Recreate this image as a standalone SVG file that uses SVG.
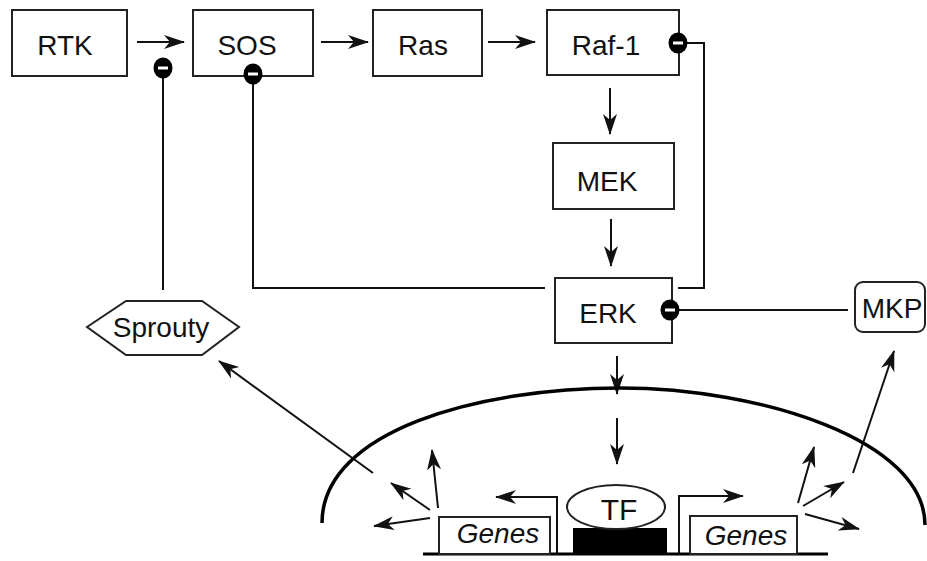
<svg xmlns="http://www.w3.org/2000/svg" width="927" height="561" viewBox="0 0 927 561">
<defs>
<style>
.box{fill:#fff;stroke:#222;stroke-width:2}
.lbl{font-family:"Liberation Sans",Arial,sans-serif;font-size:28px;fill:#111;text-anchor:middle}
.it{font-style:italic}
.ln{fill:none;stroke:#111;stroke-width:2}
.ar{fill:none;stroke:#111;stroke-width:2;marker-end:url(#ah)}
.inh{fill:#000}
.dash{stroke:#fff;stroke-width:3}
</style>
<marker id="ah" markerUnits="userSpaceOnUse" markerWidth="22" markerHeight="18" viewBox="0 0 22 18" refX="20" refY="9" orient="auto">
<path d="M0,2 L21,9 L0,16 L6,9 z" fill="#111"/>
</marker>
<g id="inhib">
<ellipse cx="0" cy="0" rx="9.5" ry="10.5" class="inh"/>
<line x1="-5" y1="0" x2="5" y2="0" class="dash"/>
</g>
</defs>
<rect width="927" height="561" fill="#fff"/>

<g id="connectors">
<line class="ar" x1="137" y1="42" x2="184" y2="42"/>
<line class="ar" x1="321" y1="42" x2="368" y2="42"/>
<line class="ar" x1="488" y1="42" x2="535" y2="42"/>
<line class="ar" x1="610" y1="88" x2="610" y2="134"/>
<line class="ar" x1="611" y1="219" x2="611" y2="266"/>
<line class="ar" x1="617" y1="356" x2="617" y2="394"/>
<line class="ar" x1="617" y1="418" x2="617" y2="464"/>
<polyline class="ln" points="163,290 163,72"/>
<polyline class="ln" points="253,78 253,288 545,288"/>
<polyline class="ln" points="686,43 704,43 704,288 678,288"/>
<line class="ln" x1="672" y1="310" x2="848" y2="310"/>
<line class="ar" x1="373" y1="473" x2="219" y2="361"/>
<line class="ar" x1="438" y1="508" x2="432" y2="450"/>
<line class="ar" x1="430" y1="510" x2="391" y2="483"/>
<line class="ar" x1="430" y1="518" x2="374" y2="526"/>
<line class="ar" x1="798" y1="503" x2="814" y2="447"/>
<line class="ar" x1="803" y1="506" x2="844" y2="482"/>
<line class="ar" x1="805" y1="514" x2="859" y2="529"/>
<line class="ar" x1="853" y1="473" x2="894" y2="351"/>
<polyline class="ar" points="557,554 557,497 496,497"/>
<polyline class="ar" points="679,554 679,496 743,496"/>
</g>

<g id="membrane">
<path d="M322,523 C322,430 480,388 620,388 C760,388 925,440 925,525" fill="none" stroke="#000" stroke-width="3.5"/>
</g>

<g id="dna">
<line x1="423" y1="554" x2="828" y2="554" stroke="#000" stroke-width="3"/>
</g>

<g id="RTK"><rect class="box" x="12" y="10" width="115" height="66"/><text class="lbl" x="65" y="55">RTK</text></g>
<g id="SOS"><rect class="box" x="193" y="10" width="120" height="66"/><text class="lbl" x="247" y="55">SOS</text></g>
<g id="Ras"><rect class="box" x="373" y="10" width="109" height="66"/><text class="lbl" x="423" y="55">Ras</text></g>
<g id="Raf-1"><rect class="box" x="547" y="10" width="132" height="65"/><text class="lbl" x="606" y="55">Raf-1</text></g>
<g id="MEK"><rect class="box" x="553" y="143" width="121" height="66"/><text class="lbl" x="607" y="191">MEK</text></g>
<g id="ERK"><rect class="box" x="555" y="278" width="117" height="65"/><text class="lbl" x="608" y="323">ERK</text></g>
<g id="MKP"><rect class="box" x="855" y="282" width="70" height="50" rx="8"/><text class="lbl" x="892" y="318">MKP</text></g>
<g id="Sprouty"><polygon class="box" points="87,327 126,301 202,301 239,327 202,355 126,355"/><text class="lbl" x="161" y="337">Sprouty</text></g>

<g id="GenesLeft"><rect class="box" x="439" y="517" width="111" height="37"/><text class="lbl it" x="498" y="543">Genes</text></g>
<g id="GenesRight"><rect class="box" x="690" y="516" width="107" height="38"/><text class="lbl it" x="746" y="545">Genes</text></g>
<g id="TF">
<rect x="573" y="528" width="94" height="26" fill="#000"/>
<ellipse class="box" cx="616" cy="507" rx="49" ry="22"/>
<text class="lbl" x="619" y="520" style="font-size:30px">TF</text>
</g>

<g id="inhibitors">
<use href="#inhib" x="163" y="68"/>
<use href="#inhib" x="253" y="74"/>
<use href="#inhib" x="678" y="43"/>
<use href="#inhib" x="670" y="310"/>
</g>
</svg>
